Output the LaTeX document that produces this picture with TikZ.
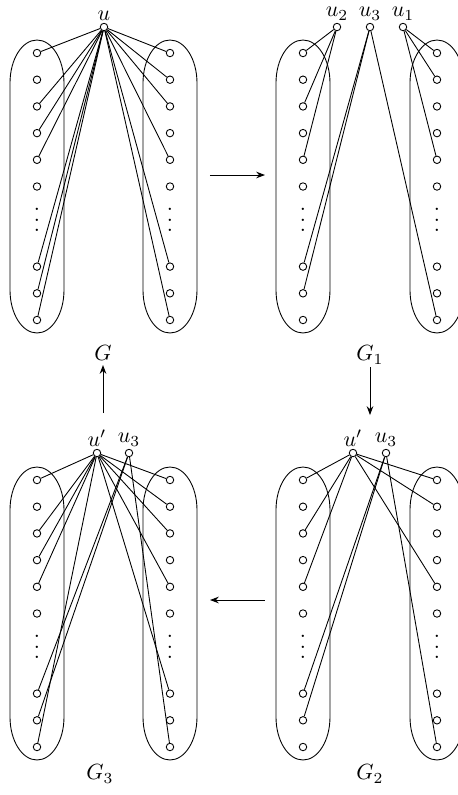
\documentclass[tikz,border=0pt]{standalone}
\usetikzlibrary{arrows.meta}
\newcommand{\colvdots}{\vbox{\baselineskip4.6pt\lineskiplimit0pt
  \hbox{.}\hbox{.}\hbox{.}}}
\begin{document}
\begin{tikzpicture}[
  x=0.455pt, y=0.455pt,
  vtx/.style={circle, draw, fill=white, inner sep=0pt, minimum size=3.4pt},
  hub/.style={vtx, label={[inner sep=1pt]above:#1}},
  gap/.style={inner sep=0pt},
  blob/.style={thin},
  edge/.style={thin},
  flow/.style={-{Stealth[length=4pt, width=3pt]}, thin},
  title/.style={font=\normalsize}
]
\useasboundingbox (0,0) rectangle (458,-795);

% Column positions (x) and first row (y)
\def\xLa{37}
\def\xRa{170}
\def\xLb{303}
\def\xRb{437}
\def\yTop{-53}
\def\yBot{-480}
\def\dy{26.7}

% Vertex columns: A = G, B = G_1, C = G_2, D = G_3
\foreach \p/\xl/\xr/\yy in {A/\xLa/\xRa/\yTop, B/\xLb/\xRb/\yTop,
                            C/\xLb/\xRb/\yBot, D/\xLa/\xRa/\yBot} {
  \foreach \i in {0,...,5,8,9,10} {
    \node[vtx] (\p-l\i) at (\xl, {\yy-\i*\dy}) {};
    \node[vtx] (\p-r\i) at (\xr, {\yy-\i*\dy}) {};
  }
  \node[gap] (\p-ldots) at (\xl, {\yy-6.25*\dy}) {\colvdots};
  \node[gap] (\p-rdots) at (\xr, {\yy-6.25*\dy}) {\colvdots};
  % Ovals round the columns
  \foreach \x in {\xl,\xr} {
    \draw[blob] ({\x-27}, {\yy+13-43})
      arc[start angle=180, end angle=0, x radius=27, y radius=43]
      -- ({\x+27}, {\yy-10*\dy-13+43})
      arc[start angle=0, end angle=-180, x radius=27, y radius=43]
      -- cycle;
  }
}

% Hubs
\node[hub=$u$]   (A-u)  at (104,-27) {};
\node[hub=$u_2$] (B-u2) at (337,-27) {};
\node[hub=$u_3$] (B-u3) at (370,-27) {};
\node[hub=$u_1$] (B-u1) at (403,-27) {};
\node[hub=$u'$]  (C-u)  at (353,-453) {};
\node[hub=$u_3$] (C-u3) at (386,-453) {};
\node[hub=$u'$]  (D-u)  at (97,-453) {};
\node[hub=$u_3$] (D-u3) at (129,-453) {};

% Edges of G
\foreach \v in {l0,l2,l3,l4,l8,l9,l10,r0,r1,r2,r4,r8,r10}
  \draw[edge] (A-u) -- (A-\v);

% Edges of G_1
\foreach \v in {l0,l2,l4} \draw[edge] (B-u2) -- (B-\v);
\foreach \v in {r0,r1,r4} \draw[edge] (B-u1) -- (B-\v);
\foreach \v in {l8,l9,r10} \draw[edge] (B-u3) -- (B-\v);

% Edges of G_2
\foreach \v in {l0,l2,l4,r0,r1,r4} \draw[edge] (C-u) -- (C-\v);
\foreach \v in {l8,l9,r10} \draw[edge] (C-u3) -- (C-\v);

% Edges of G_3
\foreach \v in {l0,l2,l3,l4,l10,r0,r1,r2,r4,r8} \draw[edge] (D-u) -- (D-\v);
\foreach \v in {l8,l9,r10} \draw[edge] (D-u3) -- (D-\v);

% Captions
\node[title] (A-cap) at (103,-353) {$G$};
\node[title] (B-cap) at (370,-355) {$G_1$};
\node[title] (C-cap) at (370,-774) {$G_2$};
\node[title] (D-cap) at (100,-774) {$G_3$};

% Steps between the graphs
\coordinate (AB-s) at (210,-175);
\coordinate (AB-e) at (265,-175);
\coordinate (BC-s) at (370,-367);
\coordinate (BC-e) at (370,-415);
\coordinate (CD-s) at (265,-600);
\coordinate (CD-e) at (210,-600);
\coordinate (DA-s) at (103,-413);
\coordinate (DA-e) at (103,-365);
\draw[flow] (AB-s) -- (AB-e);
\draw[flow] (BC-s) -- (BC-e);
\draw[flow] (CD-s) -- (CD-e);
\draw[flow] (DA-s) -- (DA-e);

\end{tikzpicture}
\end{document}
